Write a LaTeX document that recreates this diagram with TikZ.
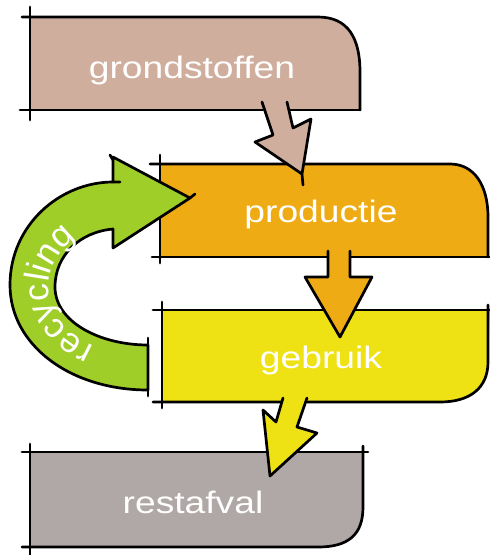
\documentclass[tikz,border=0pt]{standalone}
\usepackage{fontspec}
\setmainfont{Liberation Sans}
\newfontfamily\widesans[FakeStretch=1.2]{Liberation Sans}
\usetikzlibrary{decorations.text}

\definecolor{rawbrown}{RGB}{207, 174, 158}
\definecolor{prodorange}{RGB}{238, 171, 20}
\definecolor{useyellow}{RGB}{238, 226, 20}
\definecolor{wastegrey}{RGB}{176, 168, 166}
\definecolor{recgreen}{RGB}{160, 206, 40}

\newcommand{\recycfont}{\fontsize{35}{40}\selectfont}

\tikzset{
  sketch/.style={draw=black, line width=2.7pt, line join=round, line cap=round},
  stagelabel/.style={text=white, anchor=base, inner sep=0pt, font=\widesans\fontsize{31}{36}\selectfont},
}

\begin{document}
\begin{tikzpicture}[x=1pt, y=-1pt]
  \useasboundingbox (0,0) rectangle (490,555);
  \clip (0,0) rectangle (490,555);

  % grondstoffen
  \fill[rawbrown] (30,17) -- (318,17) .. controls (348,17) and (360,38) .. (360,72) -- (360,110) -- (30,110) -- cycle;
  \draw[sketch] (22,17) -- (318,17) .. controls (348,17) and (360,38) .. (360,72) -- (360,110);
  \draw[sketch] (30,7) -- (30,120);
  \draw[sketch] (20,110) -- (263,110) (287,110) -- (360,110);

  % productie
  \fill[prodorange] (160,164) -- (450,164) .. controls (474,164) and (488,185) .. (488,217) -- (488,257) -- (160,257) -- cycle;
  \draw[sketch] (150,164) -- (450,164) .. controls (474,164) and (488,185) .. (488,217) -- (488,257);
  \draw[sketch] (160,155) -- (160,263);
  \draw[sketch] (152,257) -- (328,257) (350,257) -- (495,257);

  % gebruik
  \fill[useyellow] (162,310) -- (490,310) -- (488,362) .. controls (488,388) and (470,402) .. (440,402) -- (162,402) -- cycle;
  \draw[sketch] (153,310) -- (495,310);
  \draw[sketch] (488,305) -- (488,362) .. controls (488,388) and (470,402) .. (440,402) -- (307,402) (283,402) -- (153,402);
  \draw[sketch] (162,302) -- (162,408);

  % restafval
  \fill[wastegrey] (30,452) -- (363,452) -- (363,507) .. controls (363,535) and (348,547) .. (318,547) -- (30,547) -- cycle;
  \draw[sketch] (22,452) -- (368,452);
  \draw[sketch] (363,446) -- (363,507) .. controls (363,535) and (348,547) .. (318,547) -- (22,547);
  \draw[sketch] (30,444) -- (30,560);

  % arrows between the stages
  \filldraw[sketch, fill=rawbrown] (262,102) -- (273,135) -- (255,142) -- (302,174) -- (311,119) -- (293,128) -- (287,102);
  \draw[sketch] (302,174) -- (303,185);
  \filldraw[sketch, fill=prodorange] (328,251) -- (328,277) -- (305,277) -- (340,337) -- (372,277) -- (350,277) -- (350,251);
  \filldraw[sketch, fill=useyellow] (283,398) -- (276,422) -- (263,410) -- (270,476) -- (317,433) -- (297,427) -- (307,398);

  % recycling loop
  \filldraw[sketch, fill=recgreen] (148,390) .. controls (70,390) and (10,345) .. (10,285)
    .. controls (10,225) and (60,182) .. (113,182) -- (113,157) -- (190,198) -- (113,248) -- (113,229)
    .. controls (80,232) and (55,255) .. (55,287) .. controls (55,322) and (100,345) .. (148,345) -- cycle;
  \draw[sketch] (148,338) -- (148,396);
  \draw[sketch] (110,155) -- (113,160) (113,182) -- (120,182) (190,198) -- (195,194);
  \begin{scope}[shift={(148,287)}]
    \path[decorate, decoration={text along path, text align=center, text color=white, text={|\recycfont|recycling}}]
      (84:100 and 70) arc[start angle=84, end angle=264, x radius=100, y radius=70];
  \end{scope}

  % labels
  \node[stagelabel] (grond) at (192,78) {grondstoffen};
  \node[stagelabel] (prod) at (321,222) {productie};
  \node[stagelabel] (gebr) at (321,368) {gebruik};
  \node[stagelabel] (rest) at (193,513) {restafval};
\end{tikzpicture}
\end{document}
